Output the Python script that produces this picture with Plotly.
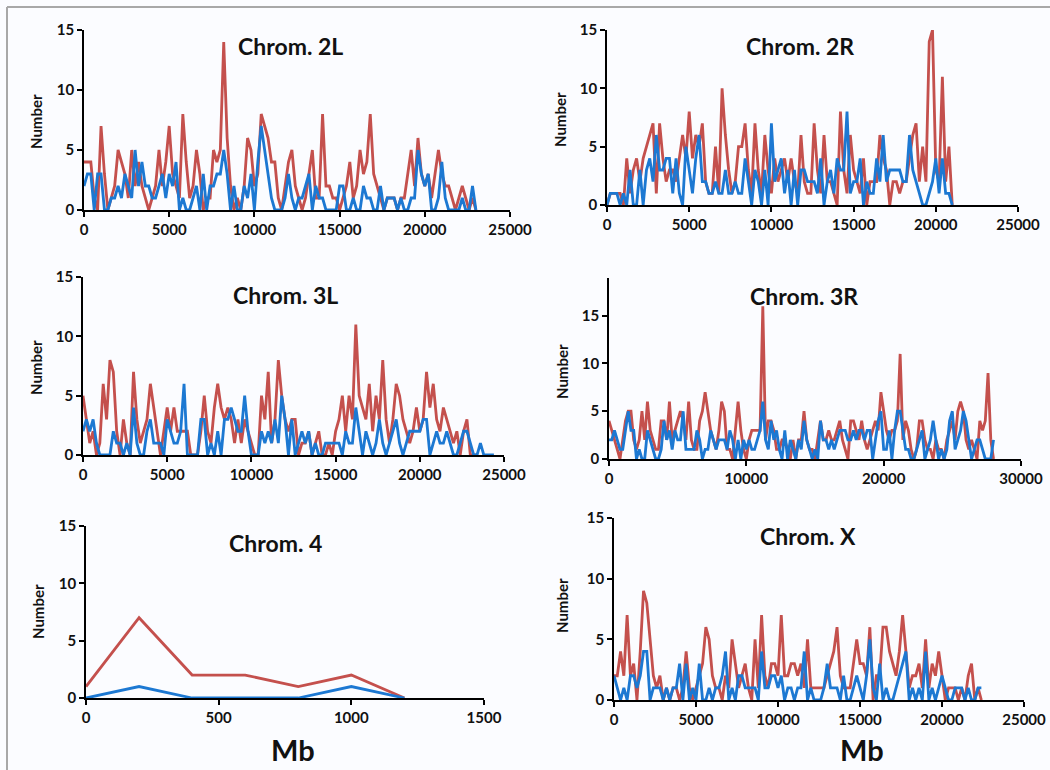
import plotly.graph_objects as go

BIN_KB = 200

red_2L = [4,4,4,1,0,7,3,0,1,2,5,4,3,1,5,2,4,2,1,0,1,2,5,2,4,7,3,2,1,8,
          4,1,2,5,3,0,1,1,5,4,5,14,6,2,0,1,0,2,6,5,2,3,8,7,6,4,4,1,0,2,
          4,5,2,1,0,1,3,5,1,1,8,2,2,1,1,0,1,2,4,1,2,5,3,4,8,3,2,1,0,1,
          1,1,0,1,1,3,5,2,6,3,2,3,1,3,5,3,2,2,1,0,1,2,1,0,1,0]
blue_2L = [2,3,3,0,3,3,0,0,1,1,2,1,3,2,1,5,2,4,2,2,1,1,2,3,1,3,2,4,0,1,
           0,0,1,2,0,3,0,2,2,3,3,5,3,0,2,0,0,2,1,3,0,4,7,5,3,1,0,0,0,1,
           3,1,0,1,1,2,3,0,2,1,1,0,0,0,0,2,2,0,0,1,0,0,2,1,1,0,0,2,0,1,
           1,1,0,1,0,0,1,1,5,3,2,3,0,0,1,4,1,0,0,0,0,1,0,0,2,0]

red_2R = [0,1,1,1,1,0,4,1,3,4,2,4,5,6,7,1,7,4,2,3,3,2,4,6,4,8,4,6,5,7,
          2,1,1,5,1,10,6,3,1,2,5,5,7,3,1,7,3,1,6,3,1,4,2,3,4,2,4,2,1,6,
          2,1,1,7,3,1,6,2,2,1,0,8,3,1,6,3,2,1,4,0,2,2,2,6,4,3,0,2,2,1,
          2,2,4,6,7,2,5,2,14,15,3,2,11,2,5,0]
blue_2R = [0,1,1,1,0,1,0,3,0,0,3,0,3,4,2,6,3,3,4,4,1,4,1,0,5,3,1,4,6,2,
           2,1,1,2,1,1,3,1,1,2,1,1,4,2,0,3,2,0,3,0,7,2,3,4,1,3,0,3,0,3,
           3,2,2,2,1,4,0,2,3,1,4,3,3,8,1,2,2,4,0,2,1,1,4,2,6,2,3,3,3,3,
           2,2,6,3,2,1,0,0,1,2,4,1,4,1,1,0]

red_3L = [5,3,1,2,0,1,6,3,8,7,2,0,3,1,0,7,3,1,2,3,6,4,2,0,2,4,2,4,2,2,
          2,2,0,0,0,2,5,2,1,4,6,4,3,4,3,1,3,1,3,2,1,0,0,5,3,7,1,3,8,5,
          3,2,3,3,0,1,1,2,0,1,2,0,0,1,0,2,3,5,2,5,3,11,5,4,3,6,2,5,3,8,
          3,1,3,6,5,3,2,1,2,4,2,3,7,4,6,3,2,4,3,2,1,2,0,2,3,0,0,0]
blue_3L = [2,3,2,3,1,0,0,0,0,2,1,1,0,1,0,4,1,0,0,2,3,1,1,1,0,3,2,1,1,2,
           6,0,0,0,0,3,3,0,1,0,2,0,3,3,4,3,2,2,5,2,0,0,0,2,1,2,1,3,1,5,
           3,0,3,0,1,2,1,2,0,1,0,0,1,1,1,1,1,0,2,1,1,4,2,0,2,1,0,1,3,1,
           0,1,2,3,1,0,1,2,2,2,2,3,3,0,1,2,1,1,2,1,0,0,1,2,2,1,0,0,1,0,
           0,0,0]

red_3R = [4,3,2,1,0,2,4,5,5,2,1,2,5,2,6,3,2,1,1,4,4,2,6,2,3,4,5,4,2,6,
          2,1,1,4,5,7,5,3,2,1,3,6,5,1,1,0,3,6,3,1,0,2,3,3,3,3,16,2,4,4,
          3,1,1,2,2,1,0,2,0,2,2,5,2,1,1,0,2,4,2,2,3,2,2,3,4,2,1,0,4,4,
          3,2,4,2,1,2,3,4,3,7,5,3,2,3,3,4,11,2,4,3,1,0,1,4,4,2,1,1,0,2,
          1,1,0,2,3,4,2,5,6,5,2,1,2,1,0,4,3,4,9,2,0]
blue_3R = [2,2,3,2,1,1,3,5,3,3,0,1,0,0,3,2,1,0,0,1,4,2,3,1,3,2,2,5,1,1,
           1,1,3,2,0,1,1,3,2,1,2,2,2,1,3,2,0,2,0,2,1,2,1,1,2,3,6,2,1,4,
           2,3,1,0,3,0,2,1,0,2,1,4,2,1,0,1,0,4,2,2,1,2,1,2,3,3,3,2,2,3,
           2,3,3,2,3,3,0,2,4,5,1,1,3,0,3,5,5,3,1,1,0,0,1,2,3,0,1,2,4,2,
           0,1,0,1,4,5,1,2,3,5,4,2,0,1,2,2,1,0,0,0,2]

red_4 = [1, 7, 2, 2, 1, 2, 0]
blue_4 = [0, 1, 0, 0, 0, 1, 0]

red_X = [2,2,4,2,7,2,3,0,4,9,8,5,2,1,2,0,1,0,1,1,0,1,4,1,0,1,2,3,6,5,
         2,1,1,0,2,1,5,3,1,2,3,1,0,5,1,7,2,1,3,3,2,7,2,2,3,3,2,3,1,5,
         1,1,1,1,1,2,3,4,6,2,1,1,1,3,5,3,3,2,6,0,2,2,6,6,4,3,2,4,7,4,
         1,2,2,3,1,5,1,3,2,4,2,0,1,1,1,0,1,0,2,3,0,1,0]
blue_X = [2,1,0,1,0,2,2,1,2,4,4,0,1,1,1,0,1,0,1,1,3,0,3,0,1,0,3,0,0,1,
          0,1,1,2,4,0,1,0,2,2,1,1,1,1,0,4,1,1,2,2,1,2,0,1,1,0,1,1,4,0,
          1,0,0,0,1,3,1,1,1,0,2,0,0,1,2,1,0,2,5,1,0,3,0,1,0,0,1,2,3,4,
          0,1,0,1,0,4,0,1,0,1,2,1,0,0,1,1,1,0,1,0,0,1,1]

titles = ["Chrom. 2L", "Chrom. 2R", "Chrom. 3L", "Chrom. 3R", "Chrom. 4", "Chrom. X"]
red_series = [red_2L, red_2R, red_3L, red_3R, red_4, red_X]
blue_series = [blue_2L, blue_2R, blue_3L, blue_3R, blue_4, blue_X]
x_max = [25000, 25000, 25000, 30000, 1500, 25000]
x_dtick = [5000, 5000, 5000, 10000, 500, 5000]
y_max = [15, 15, 15, 18.95, 15, 15]

W, H = 1050, 770
# pixel boxes: (left, right), (top, bottom)
boxes = [((84, 510), (30, 210)), ((607, 1018), (30, 205)),
         ((83, 504), (277, 455)), ((609, 1021), (278, 459)),
         ((86, 484), (526, 698)), ((614, 1024), (518, 700))]
title_pos = [(290, 46), (800, 46), (285, 295), (804, 296), (275, 543), (808, 536)]
ylab_pos = [(36, 122), (560, 120), (36, 368), (562, 372), (38, 612), (562, 606)]

RED = "#c4504d"
BLUE = "#1c78d2"
FONT = "Lato"
BG = "#fbfcff"

fig = go.Figure()
annotations = []
for i in range(6):
    n = "" if i == 0 else str(i + 1)
    (l, r), (t, b) = boxes[i]
    xs_r = [k * BIN_KB for k in range(len(red_series[i]))]
    xs_b = [k * BIN_KB for k in range(len(blue_series[i]))]
    fig.add_trace(go.Scatter(x=xs_r, y=red_series[i], mode="lines",
                             line=dict(color=RED, width=2.8),
                             xaxis="x" + n, yaxis="y" + n, showlegend=False))
    fig.add_trace(go.Scatter(x=xs_b, y=blue_series[i], mode="lines",
                             line=dict(color=BLUE, width=2.8),
                             xaxis="x" + n, yaxis="y" + n, showlegend=False))
    axcommon = dict(showline=True, linecolor="black", linewidth=1.5,
                    ticks="outside", ticklen=5, tickcolor="black", tickwidth=1.5,
                    showgrid=False, zeroline=False, tickformat="d",
                    tickfont=dict(family=FONT, size=15, color="#111", weight="bold"))
    fig.update_layout(**{
        "xaxis" + n: dict(domain=[l / W, r / W], anchor="y" + n,
                          range=[0, x_max[i]], dtick=x_dtick[i], tick0=0, **axcommon),
        "yaxis" + n: dict(domain=[1 - b / H, 1 - t / H], anchor="x" + n,
                          range=[0, y_max[i]], dtick=5, tick0=0, **axcommon),
    })
    tx, ty = title_pos[i]
    annotations.append(dict(text=titles[i], x=tx / W, y=1 - ty / H, xref="paper", yref="paper",
                            showarrow=False, xanchor="center", yanchor="middle",
                            font=dict(family=FONT, size=23, color="#111", weight="bold")))
    lx, ly = ylab_pos[i]
    annotations.append(dict(text="Number", x=lx / W, y=1 - ly / H, xref="paper", yref="paper",
                            showarrow=False, textangle=-90, xanchor="center", yanchor="middle",
                            font=dict(family=FONT, size=15, color="#111", weight="bold")))

for mx in (293, 862):
    annotations.append(dict(text="Mb", x=mx / W, y=1 - 749 / H, xref="paper", yref="paper",
                            showarrow=False, xanchor="center", yanchor="middle",
                            font=dict(family=FONT, size=29, color="#111", weight="bold")))

fig.update_layout(
    width=W, height=H,
    margin=dict(l=0, r=0, t=0, b=0, autoexpand=False),
    paper_bgcolor=BG, plot_bgcolor="rgba(0,0,0,0)",
    annotations=annotations,
    shapes=[
        dict(type="line", xref="paper", yref="paper", x0=7 / W, x1=7 / W, y0=0, y1=1 - 7 / H,
             line=dict(color="#a8a8a8", width=2)),
        dict(type="line", xref="paper", yref="paper", x0=7 / W, x1=1, y0=1 - 7 / H, y1=1 - 7 / H,
             line=dict(color="#a8a8a8", width=2)),
    ],
)

fig.write_html("out.html",
               config={"displayModeBar": False},
               post_script="document.body.style.margin='0px';"
                           "document.body.style.overflow='hidden';"
                           "document.body.style.background='" + BG + "';")
